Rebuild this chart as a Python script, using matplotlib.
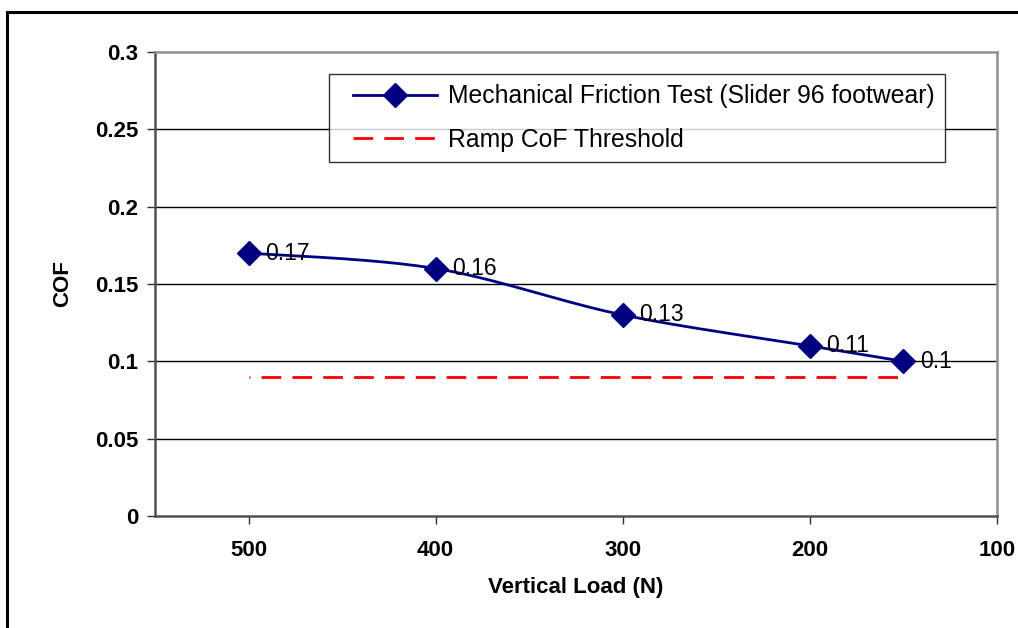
import numpy as np
import matplotlib
matplotlib.use("Agg")
import matplotlib.pyplot as plt
from matplotlib.patches import Rectangle
from matplotlib.lines import Line2D
from matplotlib.legend_handler import HandlerLine2D

# Data
loads = [500, 400, 300, 200, 150]
cof = [0.17, 0.16, 0.13, 0.11, 0.10]
threshold_x = [500, 150]
threshold_y = [0.09, 0.09]
series_label = "Mechanical Friction Test (Slider 96 footwear)"
threshold_label = "Ramp CoF Threshold"
yticks = [0, 0.05, 0.1, 0.15, 0.2, 0.25, 0.3]
ytick_labels = ["0", "0.05", "0.1", "0.15", "0.2", "0.25", "0.3"]
xticks = [500, 400, 300, 200, 100]

plt.rcParams['font.family'] = ['Liberation Sans', 'DejaVu Sans']
plt.rcParams['lines.scale_dashes'] = False

W, H = 1018, 628
fig = plt.figure(figsize=(W / 100, H / 100), dpi=100)
fig.patch.set_facecolor('white')

# outer border
fig.add_artist(Rectangle((7 / W, 0 - 0.01), 1.1, 1 - 12 / H + 0.01,
                         transform=fig.transFigure, fill=False,
                         edgecolor='black', linewidth=2.2))

ax = fig.add_axes([155 / W, 1 - 516 / H, (997 - 155) / W, (516 - 52) / H])
ax.set_xlim(550, 100)
ax.set_ylim(0, 0.3)


def excel_smooth(xs, ys, n=40):
    P = np.column_stack([xs, ys]).astype(float)
    pts = []
    for i in range(len(P) - 1):
        p0 = P[i - 1] if i > 0 else P[i]
        p1 = P[i]
        p2 = P[i + 1]
        p3 = P[i + 2] if i + 2 < len(P) else P[i + 1]
        c1 = p1 + (p2 - p0) / 6.0
        c2 = p2 - (p3 - p1) / 6.0
        t = np.linspace(0, 1, n)[:, None]
        seg = ((1 - t) ** 3) * p1 + 3 * ((1 - t) ** 2) * t * c1 + 3 * (1 - t) * t ** 2 * c2 + t ** 3 * p2
        pts.append(seg if i == 0 else seg[1:])
    pts = np.vstack(pts)
    return pts[:, 0], pts[:, 1]


class PadHandler(HandlerLine2D):
    def __init__(self, pad=9.5, **kw):
        super().__init__(**kw)
        self.pad = pad

    def create_artists(self, legend, orig_handle, xdescent, ydescent, width,
                       height, fontsize, trans):
        return super().create_artists(legend, orig_handle, xdescent - self.pad,
                                      ydescent, width - self.pad, height,
                                      fontsize, trans)


# gridlines
for y in yticks[1:-1]:
    ax.axhline(y, color='black', linewidth=1.0, zorder=1)

sx, sy = excel_smooth(loads, cof)
ax.plot(sx, sy, color='#000080', linewidth=2.0, zorder=3)
ax.plot(loads, cof, linestyle='none', marker='D', markersize=12,
        color='#000080', zorder=4)
ax.plot(threshold_x, threshold_y, color='#ff0000', linewidth=2.0,
        linestyle=(13.5, (14.2, 8.0)), zorder=2)

# legend proxies
h1 = Line2D([], [], color='#000080', linewidth=2.0, marker='D', markersize=12)
h2 = Line2D([], [], color='#ff0000', linewidth=2.0, linestyle=(0, (14.2, 8.0)))

for x, y in zip(loads, cof):
    ax.annotate(f"{y:g}", (x, y), xytext=(12, 0), textcoords='offset points',
                ha='left', va='center', fontsize=16.5, color='black', zorder=5)

ax.set_yticks(yticks)
ax.set_yticklabels(ytick_labels)
ax.set_xticks(xticks)
ax.set_xticklabels([str(v) for v in xticks])
ax.tick_params(axis='both', labelsize=16, direction='out', colors='#303030',
               labelcolor='black')
ax.tick_params(axis='y', length=6, width=1, pad=6)
ax.tick_params(axis='x', length=6, width=1, pad=11)
for lab in ax.get_xticklabels() + ax.get_yticklabels():
    lab.set_fontweight('bold')

ax.spines['left'].set_color('#505050')
ax.spines['bottom'].set_color('#505050')
ax.spines['top'].set_color('#909090')
ax.spines['right'].set_color('#909090')
for s in ax.spines.values():
    s.set_linewidth(1.8)

ax.set_xlabel("Vertical Load (N)", fontsize=16, fontweight='bold', labelpad=12)
ax.set_ylabel("COF", fontsize=16, fontweight='bold', labelpad=16)

leg = ax.legend(handles=[h1, h2], labels=[series_label, threshold_label],
                loc='upper left',
                bbox_to_anchor=((329 - 155) / 842, (516 - 74) / 464),
                fontsize=17.8, frameon=True, fancybox=False, shadow=False,
                handlelength=3.95, handletextpad=0.45, labelspacing=0.78,
                borderpad=0.42, borderaxespad=0,
                handler_map={Line2D: PadHandler(pad=9.5)})
leg.get_frame().set_edgecolor('black')
leg.get_frame().set_linewidth(1.0)
leg.set_zorder(6)

fig.savefig('out.png', dpi=100, facecolor='white')
